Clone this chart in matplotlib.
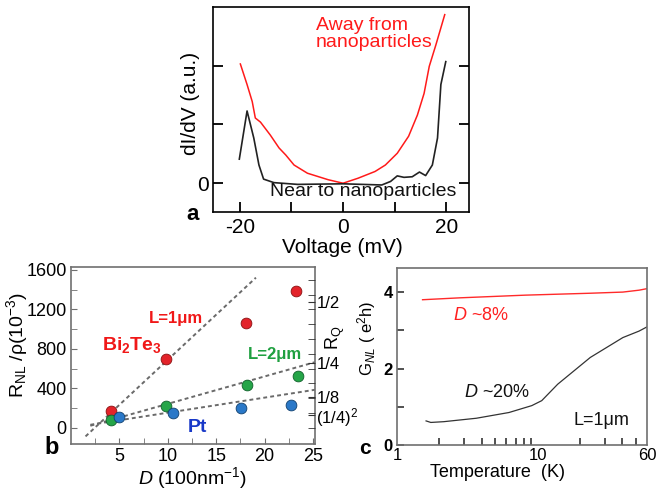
import numpy as np
import matplotlib
matplotlib.use("Agg")
import matplotlib.pyplot as plt

plt.rcParams['font.family'] = ['Liberation Sans', 'DejaVu Sans']
plt.rcParams['mathtext.fontset'] = 'custom'
plt.rcParams['mathtext.rm'] = 'Liberation Sans'
plt.rcParams['mathtext.it'] = 'Liberation Sans:italic'
plt.rcParams['mathtext.bf'] = 'Liberation Sans:bold'

# ---- panel a : tunnelling spectra ----
v_away = [-19.9, -18.6, -17.6, -17.0, -16.0, -14.1, -12.4, -11.1, -9.5, -6.9, -2.9, 0.0,
          2.9, 6.2, 8.2, 10.5, 12.7, 14.4, 15.7, 16.7, 18.0, 19.7]
g_away = [2.03, 1.68, 1.39, 1.11, 1.04, 0.82, 0.60, 0.48, 0.31, 0.17, 0.06, 0.0,
          0.085, 0.20, 0.31, 0.51, 0.80, 1.16, 1.53, 1.99, 2.36, 2.87]
v_near = [-20.1, -18.6, -17.3, -16.3, -15.4, -13.4, -8.8, 0.0, 7.5, 9.2, 10.5, 11.8,
          13.4, 14.8, 16.0, 17.3, 18.3, 18.95, 19.9]
g_near = [0.41, 1.23, 0.77, 0.31, 0.07, 0.01, -0.02, -0.01, -0.03, 0.03, 0.125, 0.10,
          0.11, 0.19, 0.13, 0.31, 0.77, 1.68, 2.07]

# ---- panel b : nonlocal resistance vs D ----
bi_x = [4.1, 9.8, 18.1, 23.2]
bi_y = [172, 700, 1066, 1387]
l2_x = [4.1, 9.8, 18.2, 23.4]
l2_y = [81, 216, 435, 526]
pt_x = [5.0, 10.5, 17.6, 22.7]
pt_y = [108, 149, 199, 226]
fit1_x, fit1_y = [1.5, 19.1], [-88, 1522]
fit2_x, fit2_y = [2.0, 25.2], [20, 665]
fit3_x, fit3_y = [2.0, 25.2], [30, 385]
rq_pos = [132, 314, 658, 1276]
rq_lab = ['(1/4)$^2$', '1/8', '1/4', '1/2']

# ---- panel c : G_NL vs temperature ----
t_red = [1.52, 2.81, 8.2, 23.7, 40.4, 52.7, 60]
g_red = [3.80, 3.85, 3.92, 3.97, 4.00, 4.05, 4.09]
t_blk = [1.61, 1.74, 2.15, 3.67, 6.26, 9.09, 10.7, 13.9, 23.7, 40.4, 52.7, 60]
g_blk = [0.63, 0.59, 0.61, 0.70, 0.85, 1.03, 1.16, 1.59, 2.29, 2.81, 2.98, 3.09]

W, H = 659, 491
fig = plt.figure(figsize=(W / 100, H / 100), dpi=100)


def box(l, t, r, b):
    return [l / W, 1 - b / H, (r - l) / W, (b - t) / H]


# ================= a =================
ax = fig.add_axes(box(213, 7, 469, 212))
ax.plot(v_away, g_away, color='#ff1a1a', lw=1.1)
ax.plot(v_near, g_near, color='#222222', lw=1.2)
ax.set_xlim(-25.2, 24.4)
ax.set_ylim(-0.49, 3.0)
ax.set_xticks([-20, -10, 0, 10, 20])
ax.set_xticklabels(['-20', '', '0', '', '20'])
ax.set_yticks([0, 1, 2])
ax.set_yticklabels(['0', '', ''])
ax.tick_params(direction='in', length=7, width=1.3, right=True, labelsize=15, pad=4)
ax.tick_params(axis='y', pad=3)
for s in ax.spines.values():
    s.set_linewidth(1.2)
ax.set_xlabel('Voltage (mV)', fontsize=15)
ax.set_ylabel('dI/dV (a.u.)', fontsize=15)
ax.xaxis.set_label_coords(0.504, -0.125)
ax.yaxis.set_label_coords(-0.05, 0.53)
ax.text(0.402, 0.95, 'Away from\nnanoparticles', color='#ff1a1a', fontsize=14,
        ha='left', va='top', linespacing=0.95, transform=ax.transAxes)
ax.text(0.223, 0.10, 'Near to nanoparticles', color='#111111', fontsize=14,
        ha='left', va='center', transform=ax.transAxes)
fig.text(193 / W, 1 - 215 / H, 'a', fontsize=16, fontweight='bold', ha='center', va='center')

# ================= b =================
gray = '#707070'
bx = fig.add_axes(box(71, 267, 315, 444))
for fx, fy in [(fit1_x, fit1_y), (fit2_x, fit2_y), (fit3_x, fit3_y)]:
    bx.plot(fx, fy, color='#6a6a6a', lw=1.4, ls=(0, (2, 1.6)))
bx.scatter(bi_x, bi_y, s=60, color='#e3232a', edgecolors='#8a1010', linewidths=0.6, zorder=3)
bx.scatter(l2_x, l2_y, s=60, color='#25a548', edgecolors='#10602a', linewidths=0.6, zorder=3)
bx.scatter(pt_x, pt_y, s=60, color='#2a78c8', edgecolors='#10406e', linewidths=0.6, zorder=3)
bx.set_xlim(0, 25.2)
bx.set_ylim(-165, 1630)
bx.set_xticks([5, 10, 15, 20, 25])
bx.set_xticks(np.arange(2.5, 25, 5), minor=True)
bx.set_yticks([0, 400, 800, 1200, 1600])
bx.set_yticks(np.arange(200, 1600, 400), minor=True)
bx.tick_params(which='both', direction='in', color=gray, labelsize=13, pad=3)
bx.tick_params(which='major', length=4)
bx.tick_params(which='minor', length=4)
for s in bx.spines.values():
    s.set_color(gray)
    s.set_linewidth(1.2)
bx.set_xlabel('$D$ (100nm$^{-1}$)', fontsize=14)
bx.set_ylabel('R$_{\\mathrm{NL}}$ /ρ(10$^{-3}$)', fontsize=14)
bx.xaxis.set_label_coords(0.5, -0.12)
bx.yaxis.set_label_coords(-0.17, 0.56)

tw = bx.twinx()
tw.set_ylim(bx.get_ylim())
tw.set_yticks(rq_pos)
tw.set_yticklabels(rq_lab)
tw.set_yticks(np.arange(0, 1600, 150), minor=True)
tw.tick_params(which='both', direction='in', color='#333333', length=5, labelsize=12, pad=1)
for s in tw.spines.values():
    s.set_visible(False)
fig.text(335 / W, 1 - 338 / H, 'R$_{\\mathrm{Q}}$', fontsize=13, rotation=90,
         ha='center', va='center')

bx.text(0.43, 0.71, 'L=1μm', color='#f01818', fontsize=12, fontweight='bold',
        ha='center', va='center', transform=bx.transAxes)
bx.text(0.25, 0.56, '$\\mathbf{Bi_2Te_3}$', color='#f01818', fontsize=14,
        ha='center', va='center', transform=bx.transAxes)
bx.text(0.836, 0.503, 'L=2μm', color='#1fa040', fontsize=12, fontweight='bold',
        ha='center', va='center', transform=bx.transAxes)
bx.text(0.52, 0.096, 'Pt', color='#1838c8', fontsize=14, fontweight='bold',
        ha='center', va='center', transform=bx.transAxes)
fig.text(52 / W, 1 - 447 / H, 'b', fontsize=17, fontweight='bold', ha='center', va='center')

# ================= c =================
cx = fig.add_axes(box(397, 268, 647, 445))
cx.plot(t_red, g_red, color='#ff2a2a', lw=1.0)
cx.plot(t_blk, g_blk, color='#333333', lw=0.9)
cx.set_xscale('log')
cx.set_xlim(1, 60)
cx.set_ylim(0, 4.63)
cx.set_xticks([1, 10, 60])
cx.set_xticklabels(['1', '10', '60'])
cx.set_xticks([2, 3, 4, 5, 6, 7, 8, 9, 20, 30, 40, 50], minor=True)
cx.xaxis.set_minor_formatter(matplotlib.ticker.NullFormatter())
cx.set_yticks([0, 2, 4])
cx.set_yticks([1, 3], minor=True)
cx.tick_params(which='both', direction='in', color='#222222', length=5, width=1.1)
cx.tick_params(axis='x', which='major', length=0, labelsize=12, pad=2)
cx.tick_params(axis='y', labelsize=12, pad=3)
for lab in cx.get_yticklabels():
    lab.set_fontweight('bold')
for s in cx.spines.values():
    s.set_color(gray)
    s.set_linewidth(1.2)
cx.set_xlabel('Temperature  (K)', fontsize=13)
cx.set_ylabel('G$_{NL}$ ( e$^{2}$h)', fontsize=12)
cx.xaxis.set_label_coords(0.4, -0.105)
cx.yaxis.set_label_coords(-0.075, 0.6)
cx.text(0.336, 0.734, '$D$ ~8%', color='#ff2020', fontsize=13,
        ha='center', va='center', transform=cx.transAxes)
cx.text(0.40, 0.294, '$D$ ~20%', color='#111111', fontsize=13,
        ha='center', va='center', transform=cx.transAxes)
cx.text(0.816, 0.141, 'L=1μm', color='#111111', fontsize=13,
        ha='center', va='center', transform=cx.transAxes)
fig.text(365 / W, 1 - 448 / H, 'c', fontsize=15, fontweight='bold', ha='center', va='center')

fig.savefig('out.png', dpi=100)
